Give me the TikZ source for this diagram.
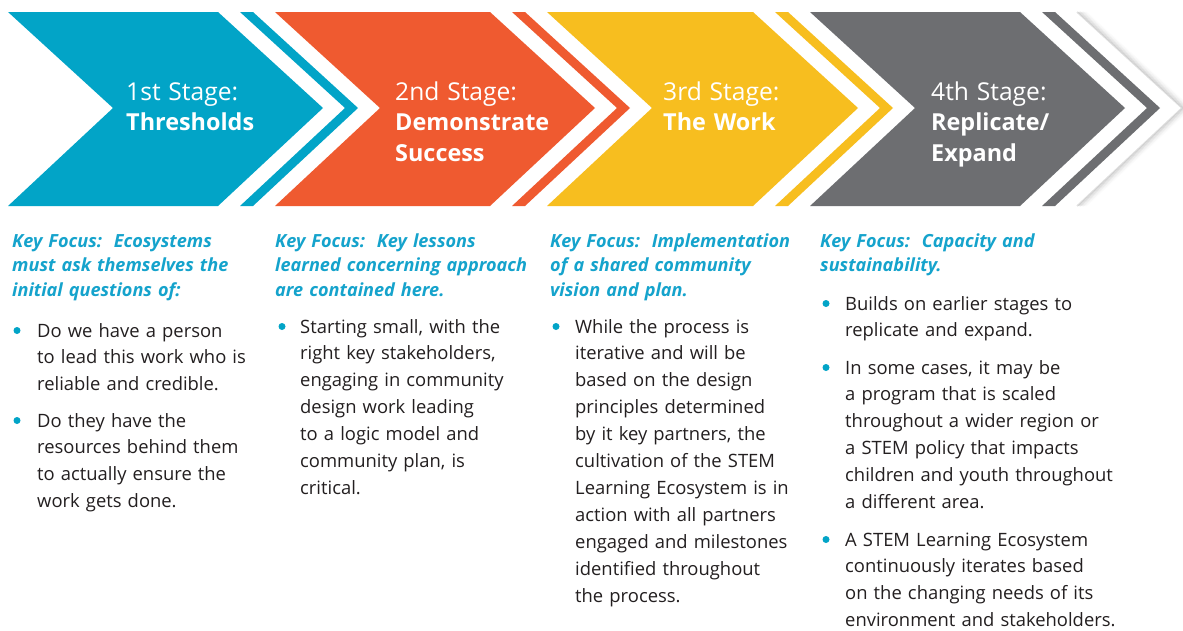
\documentclass[tikz,border=0pt]{standalone}
\usepackage{fontspec}
\setmainfont{Open Sans}
\definecolor{kblue}{HTML}{02A4C7}
\definecolor{korange}{HTML}{EF5A30}
\definecolor{kyellow}{HTML}{F7BE1F}
\definecolor{kgrey}{HTML}{6D6E71}
\definecolor{khead}{HTML}{15A3CC}
\definecolor{ktext}{HTML}{231F20}
\newcommand\stg[1]{{\fontsize{24.6}{31}\selectfont #1}}
\newcommand\stb[1]{{\fontsize{23.4}{31}\selectfont\bfseries #1}}
\tikzset{
  stagetitle/.style={anchor=base west, inner sep=0pt, text=white, text width=200pt, align=left,
    font=\fontsize{23.4}{31}\selectfont},
  focus/.style={anchor=base west, inner sep=0pt, text=khead, text width=290pt, align=left,
    font=\fontsize{18.1}{24.5}\selectfont\bfseries\itshape},
  body/.style={anchor=base west, inner sep=0pt, text=ktext, text width=320pt, align=left,
    font=\fontsize{18.4}{26.9}\selectfont},
  dot/.style={circle, fill=kblue, inner sep=0pt, minimum size=7pt}
}
\newcommand\chev[4]{% #1 color, #2 left x, #3 top-right x, #4 notch depth
  \fill[#1] (#2,12) -- (#3,12) -- ({#3+105},108) -- (#3,206) -- (#2,206) -- ({#2+#4},108) -- cycle;
  \fill[#1] ({#3+22},12) -- ({#3+35},12) -- ({#3+140},108) -- ({#3+35},206) -- ({#3+22},206) -- ({#3+127},108) -- cycle;
}
\begin{document}
\begin{tikzpicture}[x=1pt,y=-1pt]
\useasboundingbox (0,0) rectangle (1183,630);
\fill[white] (0,0) rectangle (1183,630);

% soft shadow at the right end of the banner
\foreach \i/\o in {0/0.12,1.5/0.09,3/0.07,4.5/0.05,6/0.035,7.5/0.02,9/0.01}
  \draw[black, opacity=\o, line width=1.6pt] ({1077+\i},12) -- ({1182+\i},108) -- ({1077+\i},206);

% chevrons
\chev{kblue}{8}{218}{105}
\chev{korange}{275}{490}{105}
\chev{kyellow}{547}{753}{105}
\chev{kgrey}{810}{1020}{105}

% stage titles
\node[stagetitle] (s1) at (126,100) {\stg{1st Stage:}\\[-0.5pt]\stb{Thresholds}};
\node[stagetitle] (s2) at (395,100) {\stg{2nd Stage:}\\[-0.5pt]\stb{Demonstrate}\\\stb{Success}};
\node[stagetitle] (s3) at (663,100) {\stg{3rd Stage:}\\[-0.5pt]\stb{The Work}};
\node[stagetitle] (s4) at (931,100) {\stg{4th Stage:}\\[-0.5pt]\stb{Replicate/}\\\stb{Expand}};

% key focus headings
\node[focus] (f1) at (12,247) {Key Focus:\hspace{0.65em}Ecosystems\\must ask themselves the\\initial questions of:};
\node[focus] (f2) at (275,247) {Key Focus:\hspace{0.65em}Key lessons\\learned concerning approach\\are contained here.};
\node[focus] (f3) at (550,247) {Key Focus:\hspace{0.65em}Implementation\\of a shared community\\vision and plan.};
\node[focus] (f4) at (820,247) {Key Focus:\hspace{0.65em}Capacity and\\sustainability.};

% column 1
\node[dot] (d1a) at (17,330.5) {};
\node[body] (b1a) at (37,337) {Do we have a person\\to lead this work who is\\reliable and credible.};
\node[dot] (d1b) at (17,420.5) {};
\node[body] (b1b) at (37,427) {Do they have the\\resources behind them\\to actually ensure the\\work gets done.};

% column 2
\node[dot] (d2a) at (282,326.5) {};
\node[body] (b2a) at (300,333) {Starting small, with the\\right key stakeholders,\\engaging in community\\design work leading\\to a logic model and\\community plan, is\\critical.};

% column 3
\node[dot] (d3a) at (556,326.5) {};
\node[body] (b3a) at (575,333) {While the process is\\iterative and will be\\based on the design\\principles determined\\by it key partners, the\\cultivation of the STEM\\Learning Ecosystem is in\\action with all partners\\engaged and milestones\\identified throughout\\the process.};

% column 4
\node[dot] (d4a) at (826,303.5) {};
\node[body] (b4a) at (845,310) {Builds on earlier stages to\\replicate and expand.};
\node[dot] (d4b) at (826,367.5) {};
\node[body] (b4b) at (845,374) {In some cases, it may be\\a program that is scaled\\throughout a wider region or\\a STEM policy that impacts\\children and youth throughout\\a different area.};
\node[dot] (d4c) at (826,539.5) {};
\node[body] (b4c) at (845,546) {A STEM Learning Ecosystem\\continuously iterates based\\on the changing needs of its\\environment and stakeholders.};
\end{tikzpicture}
\end{document}
